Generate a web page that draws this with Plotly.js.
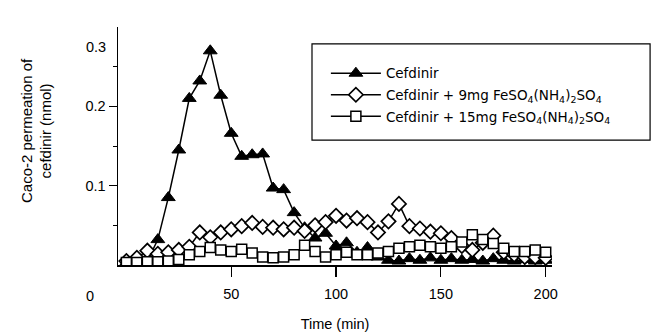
<!DOCTYPE html>
<html>
<head>
<meta charset="utf-8">
<script src="https://cdn.plot.ly/plotly-3.0.1.min.js"></script>
<style>html,body{margin:0;padding:0;background:#fff;}#chart{width:662px;height:336px;}</style>
</head>
<body>
<div id="chart"></div>
<script>
var timeMin = [0,5,10,15,20,25,30,35,40,45,50,55,60,65,70,75,80,85,90,95,100,105,110,115,120,125,130,135,140,145,150,155,160,165,170,175,180,185,190,195,200];

var cefdinir = [0.003,0.003,0.005,0.032,0.085,0.145,0.21,0.232,0.27,0.214,0.166,0.137,0.139,0.14,0.097,0.095,0.066,0.047,0.034,0.04,0.024,0.028,0.016,0.022,0.01,0.006,0.005,0.008,0.006,0.009,0.006,0.008,0.006,0.007,0.005,0.008,0.006,0.005,0.007,0.005,0.006];

var cefdinir9mg = [0.005,0.009,0.018,0.014,0.016,0.019,0.023,0.041,0.035,0.041,0.045,0.049,0.053,0.048,0.047,0.045,0.047,0.043,0.05,0.054,0.062,0.056,0.059,0.054,0.041,0.055,0.077,0.049,0.046,0.042,0.04,0.034,0.024,0.019,0.028,0.037,0.016,0.013,0.01,0.01,0.009];

var cefdinir15mg = [0.003,0.003,0.004,0.004,0.005,0.007,0.013,0.017,0.022,0.019,0.017,0.02,0.015,0.01,0.009,0.01,0.013,0.025,0.017,0.01,0.013,0.016,0.013,0.013,0.015,0.017,0.021,0.023,0.025,0.023,0.021,0.023,0.029,0.038,0.032,0.027,0.021,0.017,0.017,0.019,0.016];

var seriesNames = [
  'Cefdinir',
  'Cefdinir + 9mg FeSO<sub>4</sub>(NH<sub>4</sub>)<sub>2</sub>SO<sub>4</sub>',
  'Cefdinir + 15mg FeSO<sub>4</sub>(NH<sub>4</sub>)<sub>2</sub>SO<sub>4</sub>'
];

var xTicks = [50,100,150,200];
var yTicks = [0.1,0.2];
var yTickText = ['0.1','0.2'];

var FONT = 'Liberation Sans, Arial, Helvetica, sans-serif';
var LFONT = 'DejaVu Sans, Liberation Sans, Arial, sans-serif';
var lineStyle = {color:'#000', width:1.5};

var traces = [
  {x: timeMin, y: cefdinir, name: seriesNames[0], type:'scatter', mode:'lines+markers',
   line: lineStyle, legendgroup:'a',
   marker:{symbol:'triangle-up', size:12, color:'#000', line:{color:'#000', width:1}}},
  {x: timeMin, y: cefdinir9mg, name: seriesNames[1], type:'scatter', mode:'lines+markers',
   line: lineStyle, legendgroup:'b',
   marker:{symbol:'diamond', size:11, color:'#fff', line:{color:'#000', width:1.7}}},
  {x: timeMin, y: cefdinir15mg, name: seriesNames[2], type:'scatter', mode:'lines+markers',
   line: lineStyle, legendgroup:'c',
   marker:{symbol:'square', size:10, color:'#fff', line:{color:'#000', width:1.5}}}
];

var layout = {
  width: 662, height: 336,
  margin: {l:118, r:110, t:27, b:71},
  paper_bgcolor:'#fff', plot_bgcolor:'#fff',
  font: {family: FONT, size: 14, color:'#000'},
  showlegend: true,
  legend: {x:0.479, y:0.87, xanchor:'left', yanchor:'top', bgcolor:'rgba(0,0,0,0)',
           borderwidth:0, font:{family:LFONT, size:13.5, color:'#000'}, itemwidth:50,
           traceorder:'grouped', tracegroupgap:1},
  xaxis: {range:[-4,203], showgrid:false, zeroline:false, showline:true, linecolor:'#000', linewidth:1.5,
          tickmode:'array', tickvals:xTicks, ticks:'outside', ticklen:10, tickwidth:1.2, tickcolor:'#000',
          ticklabelstandoff:5, tickfont:{family:FONT, size:14.5},
          title:{text:'Time (min)', font:{family:FONT, size:14.5}, standoff:18}},
  yaxis: {range:[0,0.3], showgrid:false, zeroline:false, showline:true, linecolor:'#000', linewidth:1.5,
          tickmode:'array', tickvals:yTicks, ticktext:yTickText, ticks:'outside', ticklen:8, tickwidth:1.2, tickcolor:'#000',
          tickfont:{family:FONT, size:14.5},
          minor:{tickvals:[0.05,0.15,0.25], ticks:'outside', ticklen:4, tickcolor:'#000', tickwidth:1}},
  shapes: [
    {type:'rect', xref:'paper', yref:'paper', x0:0.447, x1:1.226, y0:0.525, y1:0.929,
     line:{color:'#000', width:1.2}, fillcolor:'rgba(0,0,0,0)', layer:'below'}
  ],
  annotations: [
    {xref:'paper', yref:'paper', x:-0.189, y:0.567, xanchor:'center', yanchor:'middle', textangle:-90,
     text:'Caco-2 permeation of<br>cefdinir (nmol)', showarrow:false, font:{family:FONT, size:15}},
    {xref:'paper', yref:'paper', x:-0.023, y:0.916, xanchor:'right', yanchor:'middle', text:'0.3', showarrow:false, font:{family:FONT, size:14.5}},
    {xref:'paper', yref:'paper', x:-0.065, y:-0.13, xanchor:'center', yanchor:'middle', text:'0', showarrow:false, font:{family:FONT, size:14.5}}
  ]
};

Plotly.newPlot('chart', traces, layout, {displayModeBar:false, staticPlot:true});
</script>
</body>
</html>
